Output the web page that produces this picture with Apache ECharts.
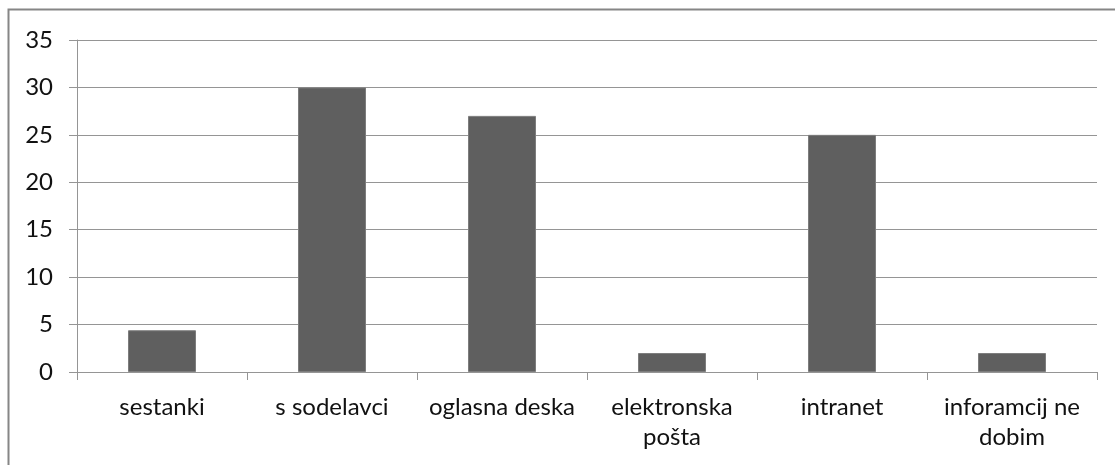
<!DOCTYPE html>
<html>
<head>
<meta charset="utf-8">
<script src="https://cdn.jsdelivr.net/npm/echarts@6/dist/echarts.min.js"></script>
<style>
  html, body { margin: 0; padding: 0; background: #ffffff; }
  #chart { width: 1115px; height: 465px; }
</style>
</head>
<body>
<div id="chart"></div>
<script>
// Survey: channels through which employees receive information
const categories = ['sestanki', 's sodelavci', 'oglasna deska', 'elektronska\npošta', 'intranet', 'inforamcij ne\ndobim'];
const values = [4.4, 30, 27, 2, 25, 2];
const yTicks = { min: 0, max: 35, interval: 5 };

const chart = echarts.init(document.getElementById('chart'), null, { renderer: 'canvas' });

const gridColor = '#959595';
const textStyle = { fontFamily: 'Lato', fontSize: 24, color: '#111111' };

chart.setOption({
  animation: false,
  backgroundColor: '#ffffff',
  graphic: [{
    type: 'rect',
    shape: { x: 8.5, y: 9.5, width: 1200, height: 600 },
    style: { fill: 'none', stroke: '#868686', lineWidth: 2 },
    silent: true
  }],
  grid: { left: 77, right: 18, top: 40, bottom: 93, containLabel: false },
  xAxis: {
    type: 'category',
    data: categories,
    boundaryGap: true,
    axisLine: { show: true, lineStyle: { color: gridColor, width: 1 } },
    axisTick: { show: true, length: 8, alignWithLabel: false, lineStyle: { color: gridColor } },
    axisLabel: Object.assign({ margin: 20, lineHeight: 30, interval: 0, align: 'center' }, textStyle),
    splitLine: { show: false }
  },
  yAxis: {
    type: 'value',
    min: yTicks.min,
    max: yTicks.max,
    interval: yTicks.interval,
    axisLine: { show: true, lineStyle: { color: gridColor, width: 1 } },
    axisTick: { show: true, length: 8, lineStyle: { color: gridColor } },
    axisLabel: Object.assign({ margin: 24 }, textStyle),
    splitLine: { show: true, lineStyle: { color: gridColor, width: 1 } }
  },
  series: [{
    type: 'bar',
    data: values,
    barWidth: '40%',
    itemStyle: { color: '#5f5f5f', borderColor: '#7d7d7d', borderWidth: 1 },
    emphasis: { disabled: true }
  }]
});
</script>
</body>
</html>
